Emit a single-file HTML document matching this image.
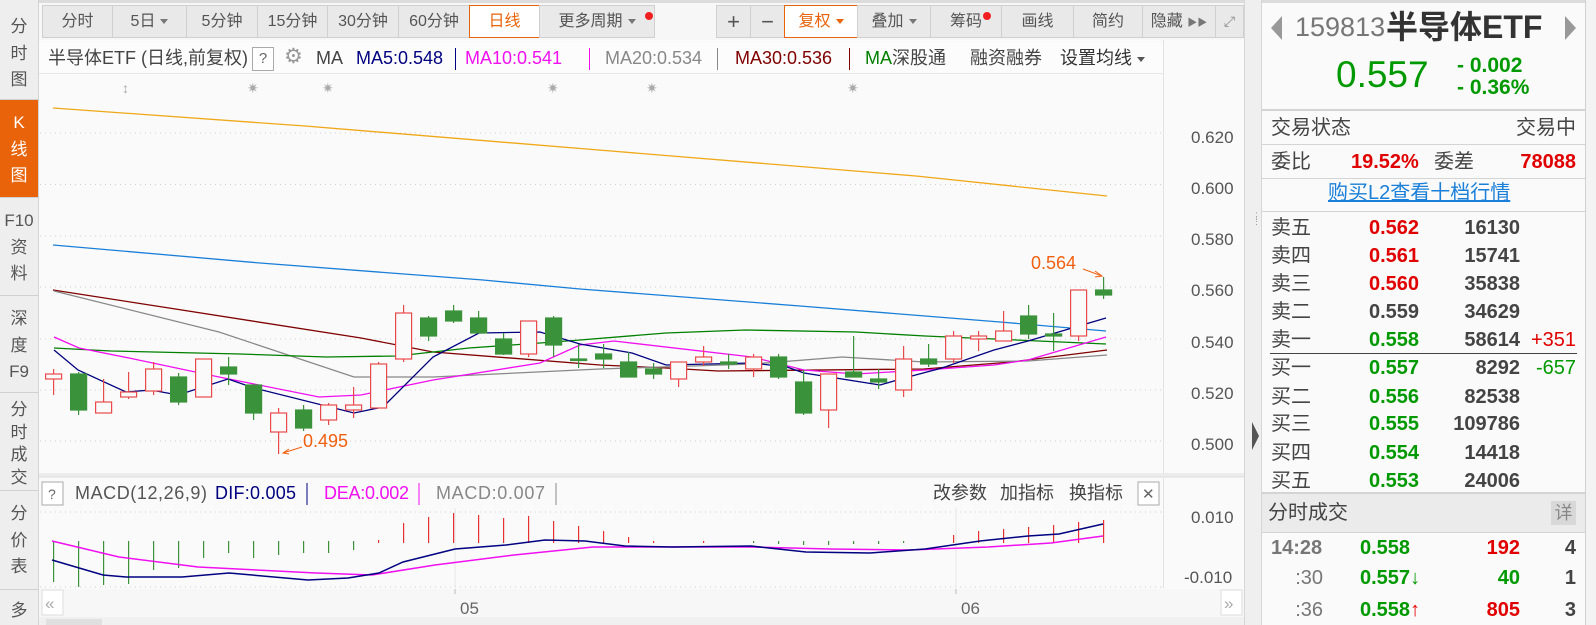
<!DOCTYPE html>
<html><head><meta charset="utf-8">
<style>
*{margin:0;padding:0;box-sizing:border-box}
body{width:1596px;height:625px;overflow:hidden;background:#f7f7f7;font-family:"Liberation Sans","Noto Sans CJK SC",sans-serif;position:relative}
.a{position:absolute;white-space:nowrap}
.si{position:absolute;left:0;width:38px;border-bottom:1px solid #d0d0d0;color:#555;font-size:17px;text-align:center;line-height:26.5px}
.btn{position:absolute;top:5px;height:33px;background:#e9e9e9;border:1px solid #d0d0d0;color:#555;font-size:16px;text-align:center;line-height:31px;white-space:nowrap;overflow:hidden}
.btn.on{background:#fff;border:1px solid #e8630a;color:#e8630a}
.tri{display:inline-block;width:0;height:0;border-left:4px solid transparent;border-right:4px solid transparent;border-top:5px solid #777;vertical-align:middle;margin-left:5px}
.dot{position:absolute;width:8px;height:8px;border-radius:4px;background:#f02020}
.t{position:absolute;white-space:nowrap;font-size:20px;line-height:24px;height:24px}
.lab{color:#444}
.r{color:#e00000;font-weight:bold}
.g{color:#009900;font-weight:bold}
.k{color:#444;font-weight:bold}
.rt{text-align:right}
.hl{position:absolute;left:1262px;width:323px;height:1px;background:#d4d4d4}
.mi{position:absolute;top:47px;font-size:18px;line-height:22px;white-space:nowrap}
</style></head><body>

<!-- left sidebar -->
<div class="a" style="left:0;top:0;width:39px;height:625px;background:#eeeeee;border-right:1px solid #d4d4d4"></div>
<div class="si" style="top:3px;height:97px;padding-top:11px">分<br>时<br>图</div>
<div class="si" style="top:100px;height:98px;padding-top:10px;background:#e8630a;color:#fff">K<br>线<br>图</div>
<div class="si" style="top:198px;height:98px;padding-top:10px">F10<br>资<br>料</div>
<div class="si" style="top:296px;height:97px;padding-top:10px">深<br>度<br>F9</div>
<div class="si" style="top:393px;height:98px;padding-top:6px;line-height:22.5px">分<br>时<br>成<br>交</div>
<div class="si" style="top:491px;height:99px;padding-top:10px">分<br>价<br>表</div>
<div class="si" style="top:590px;height:35px;padding-top:8px;border:none">多</div>

<!-- top strip -->
<div class="a" style="left:39px;top:0;width:1205px;height:3px;background:#dcdcdc"></div>

<!-- toolbar -->
<div class="btn" style="left:42px;width:71px">分时</div>
<div class="btn" style="left:112px;width:75px">5日<span class="tri"></span></div>
<div class="btn" style="left:186px;width:72px">5分钟</div>
<div class="btn" style="left:257px;width:71px">15分钟</div>
<div class="btn" style="left:327px;width:72px">30分钟</div>
<div class="btn" style="left:398px;width:72px">60分钟</div>
<div class="btn on" style="left:469px;width:71px">日线</div>
<div class="btn" style="left:539px;width:116px">更多周期<span class="tri"></span></div>
<div class="dot" style="left:645px;top:12px"></div>
<div class="btn" style="left:716px;width:35px;font-size:22px">+</div>
<div class="btn" style="left:750px;width:35px;font-size:22px">−</div>
<div class="btn on" style="left:784px;width:74px">复权<span class="tri" style="border-top-color:#e8630a"></span></div>
<div class="btn" style="left:857px;width:74px">叠加<span class="tri"></span></div>
<div class="btn" style="left:930px;width:72px">筹码</div>
<div class="dot" style="left:983px;top:12px"></div>
<div class="btn" style="left:1001px;width:73px">画线</div>
<div class="btn" style="left:1073px;width:70px">简约</div>
<div class="btn" style="left:1142px;width:74px">隐藏 <span style="font-size:10px;color:#777">▶▶</span></div>
<div class="btn" style="left:1215px;width:29px;font-size:14px;color:#888">⤢</div>

<!-- main chart -->
<svg class="a" style="left:39px;top:40px" width="1205" height="585" viewBox="39 40 1205 585">
 <rect x="39" y="40" width="1205" height="585" fill="#fafafa"/>
 <rect x="39" y="43" width="1124" height="30" fill="#fcfcfc"/>
 <line x1="39" y1="73.5" x2="1163" y2="73.5" stroke="#e6e6e6"/>
 <line x1="1163.5" y1="40" x2="1163.5" y2="588" stroke="#e2e2e2"/>
 <g stroke="#cfcfcf" stroke-dasharray="1 4">
  <line x1="40" x2="1163" y1="133" y2="133"/><line x1="40" x2="1163" y1="184.5" y2="184.5"/>
  <line x1="40" x2="1163" y1="236" y2="236"/><line x1="40" x2="1163" y1="287" y2="287"/>
  <line x1="40" x2="1163" y1="339" y2="339"/><line x1="40" x2="1163" y1="390" y2="390"/>
  <line x1="40" x2="1163" y1="441" y2="441"/>
  <line x1="40" x2="1163" y1="512" y2="512"/><line x1="40" x2="1163" y1="587" y2="587"/>
 </g>
 <g font-size="17" fill="#555">
  <text x="1191" y="143">0.620</text><text x="1191" y="194">0.600</text>
  <text x="1191" y="245">0.580</text><text x="1191" y="296">0.560</text>
  <text x="1191" y="348">0.540</text><text x="1191" y="399">0.520</text>
  <text x="1191" y="450">0.500</text>
  <text x="1191" y="523">0.010</text><text x="1184" y="583">-0.010</text>
 </g>
 <g font-size="14" fill="#aaa"><text x="122" y="93">↕</text><text x="247" y="93">✷</text><text x="322" y="93">✷</text><text x="547" y="93">✷</text><text x="646" y="93">✷</text><text x="847" y="93">✷</text></g>

 <g fill="none" stroke-width="1.3">
  <polyline stroke="#f0a818" points="53,108 305,126 611,151 916,176 1107,196"/>
  <polyline stroke="#1a7fd8" points="53,245 260,263 483,280 580,289 800,306 1000,322 1106,331"/>
  <polyline stroke="#800000" points="53,290 169,308 361,338 433,352 600,365 666,368 718,371 924,369 1011,362 1107,350"/>
  <polyline stroke="#888" points="54,291 219,332 354,377 433,377 600,369 753,364 842,357 924,362 1028,361 1107,355"/>
  <polyline stroke="#008000" points="54,348 111,351 240,354 326,357 397,356 469,348 540,343 580,340 666,333 745,330 856,332 925,336 994,339 1106,344"/>
  <polyline stroke="#f010f0" points="54,337 79,348 129,358 219,377 319,397 361,395 433,380 540,363 580,345 614,341 752,357 804,370 856,374 925,370 994,365 1028,360 1106,337"/>
  <polyline stroke="#000080" points="54,350 78,370 126,392 151,390 178,395 228,379 254,388 354,413 383,407 433,357 479,333 540,332 580,344 632,353 666,365 752,363 787,367 804,373 880,385 908,377 942,368 994,350 1028,341 1106,318"/>
 </g>

 <g stroke-width="1.2">
 <g stroke="#e84a4a" fill="#fafafa">
  <line x1="53.6" x2="53.6" y1="369" y2="395"/><rect x="45.6" y="374" width="16" height="5"/>
  <line x1="103.6" x2="103.6" y1="379" y2="413"/><rect x="95.6" y="402" width="16" height="11"/>
  <line x1="128.6" x2="128.6" y1="372" y2="399"/><rect x="120.6" y="392" width="16" height="5"/>
  <line x1="153.6" x2="153.6" y1="362" y2="395"/><rect x="145.6" y="369" width="16" height="22"/>
  <line x1="203.6" x2="203.6" y1="359" y2="397"/><rect x="195.6" y="359" width="16" height="38"/>
  <line x1="278.6" x2="278.6" y1="408" y2="454"/><rect x="270.6" y="413" width="16" height="19"/>
  <line x1="328.6" x2="328.6" y1="403" y2="425"/><rect x="320.6" y="405" width="16" height="15"/>
  <line x1="353.6" x2="353.6" y1="387" y2="418"/><rect x="345.6" y="405" width="16" height="5"/>
  <line x1="378.6" x2="378.6" y1="362" y2="408"/><rect x="370.6" y="364" width="16" height="44"/>
  <line x1="403.6" x2="403.6" y1="305" y2="362"/><rect x="395.6" y="313" width="16" height="46"/>
  <line x1="528.6" x2="528.6" y1="321" y2="357"/><rect x="520.6" y="321" width="16" height="33"/>
  <line x1="678.6" x2="678.6" y1="362" y2="387"/><rect x="670.6" y="362" width="16" height="17"/>
  <line x1="703.6" x2="703.6" y1="346" y2="366"/><rect x="695.6" y="357" width="16" height="5"/>
  <line x1="753.6" x2="753.6" y1="354" y2="377"/><rect x="745.6" y="357" width="16" height="12"/>
  <line x1="828.6" x2="828.6" y1="374" y2="428"/><rect x="820.6" y="374" width="16" height="36"/>
  <line x1="903.6" x2="903.6" y1="346" y2="397"/><rect x="895.6" y="359" width="16" height="31"/>
  <line x1="953.6" x2="953.6" y1="331" y2="363"/><rect x="945.6" y="336" width="16" height="23"/>
  <line x1="978.6" x2="978.6" y1="331" y2="351"/><rect x="970.6" y="336" width="16" height="3"/>
  <line x1="1003.6" x2="1003.6" y1="311" y2="341"/><rect x="995.6" y="331" width="16" height="10"/>
  <line x1="1078.6" x2="1078.6" y1="290" y2="341"/><rect x="1070.6" y="290" width="16" height="46"/>
 </g>
 <g stroke="#3a923a" fill="#3a923a">
  <line x1="78.6" x2="78.6" y1="372" y2="415"/><rect x="70.6" y="374" width="16" height="36"/>
  <line x1="178.6" x2="178.6" y1="373" y2="405"/><rect x="170.6" y="377" width="16" height="25"/>
  <line x1="228.6" x2="228.6" y1="357" y2="385"/><rect x="220.6" y="367" width="16" height="7"/>
  <line x1="253.6" x2="253.6" y1="385" y2="420"/><rect x="245.6" y="385" width="16" height="28"/>
  <line x1="303.6" x2="303.6" y1="405" y2="431"/><rect x="295.6" y="410" width="16" height="18"/>
  <line x1="428.6" x2="428.6" y1="316" y2="341"/><rect x="420.6" y="318" width="16" height="18"/>
  <line x1="453.6" x2="453.6" y1="305" y2="323"/><rect x="445.6" y="311" width="16" height="10"/>
  <line x1="478.6" x2="478.6" y1="311" y2="333"/><rect x="470.6" y="318" width="16" height="15"/>
  <line x1="503.6" x2="503.6" y1="333" y2="355"/><rect x="495.6" y="339" width="16" height="15"/>
  <line x1="553.6" x2="553.6" y1="316" y2="357"/><rect x="545.6" y="318" width="16" height="27"/>
  <line x1="578.6" x2="578.6" y1="344" y2="368"/><rect x="570.6" y="359" width="16" height="1.5"/>
  <line x1="603.6" x2="603.6" y1="344" y2="368"/><rect x="595.6" y="354" width="16" height="5"/>
  <line x1="628.6" x2="628.6" y1="352" y2="377"/><rect x="620.6" y="362" width="16" height="15"/>
  <line x1="653.6" x2="653.6" y1="363" y2="379"/><rect x="645.6" y="369" width="16" height="5"/>
  <line x1="728.6" x2="728.6" y1="354" y2="369"/><rect x="720.6" y="362" width="16" height="2"/>
  <line x1="778.6" x2="778.6" y1="354" y2="379"/><rect x="770.6" y="357" width="16" height="20"/>
  <line x1="803.6" x2="803.6" y1="370" y2="415"/><rect x="795.6" y="382" width="16" height="31"/>
  <line x1="853.6" x2="853.6" y1="336" y2="377"/><rect x="845.6" y="372" width="16" height="5"/>
  <line x1="878.6" x2="878.6" y1="369" y2="389"/><rect x="870.6" y="379" width="16" height="3"/>
  <line x1="928.6" x2="928.6" y1="344" y2="367"/><rect x="920.6" y="359" width="16" height="5"/>
  <line x1="1028.6" x2="1028.6" y1="305" y2="339"/><rect x="1020.6" y="316" width="16" height="18"/>
  <line x1="1053.6" x2="1053.6" y1="313" y2="351"/><rect x="1045.6" y="334" width="16" height="2"/>
  <line x1="1103.6" x2="1103.6" y1="277" y2="299"/><rect x="1095.6" y="290" width="16" height="5"/>
 </g>
 </g>
 <g stroke="#f06010" fill="none" stroke-width="1"><polyline points="302,447 283,453"/><polyline points="289,449 283,453 289,454"/><polyline points="1083,269 1102,276"/><polyline points="1095,271 1102,276 1095,277"/></g>
 <text x="303" y="447" font-size="18" fill="#f06010">0.495</text>
 <text x="1031" y="269" font-size="18" fill="#f06010">0.564</text>

 <rect x="39" y="473" width="1205" height="4" fill="#ececec"/>
 <line x1="39" y1="477" x2="1244" y2="477" stroke="#dedede"/>
 <rect x="42" y="482" width="21" height="23" fill="#fff" stroke="#aaa"/>
 <text x="48" y="499" font-size="14" fill="#666">?</text>
 <g font-size="18">
  <text x="75" y="499" fill="#555" textLength="132">MACD(12,26,9)</text>
  <text x="215" y="499" fill="#000080" textLength="81">DIF:0.005</text><line x1="307" x2="307" y1="483" y2="505" stroke="#000080"/>
  <text x="324" y="499" fill="#f010f0" textLength="85">DEA:0.002</text><line x1="419" x2="419" y1="483" y2="505" stroke="#f010f0"/>
  <text x="436" y="499" fill="#888" textLength="109">MACD:0.007</text><line x1="556" x2="556" y1="483" y2="505" stroke="#888"/>
  <text x="933" y="499" fill="#444">改参数</text><text x="1000" y="499" fill="#444">加指标</text><text x="1069" y="499" fill="#444">换指标</text>
 </g>
 <rect x="1138" y="482" width="21" height="23" fill="#fff" stroke="#aaa"/><text x="1142" y="499" font-size="15" fill="#666">✕</text>
 <line x1="455" x2="455" y1="508" y2="587" stroke="#e6e6e6"/><line x1="956" x2="956" y1="508" y2="587" stroke="#e6e6e6"/>
 <g stroke="#3a923a" stroke-width="1.2">
  <line x1="53.6" x2="53.6" y1="541" y2="582"/><line x1="78.6" x2="78.6" y1="541" y2="587"/>
  <line x1="103.6" x2="103.6" y1="541" y2="585"/><line x1="128.6" x2="128.6" y1="541" y2="584"/>
  <line x1="153.6" x2="153.6" y1="541" y2="570"/><line x1="178.6" x2="178.6" y1="541" y2="568"/>
  <line x1="203.6" x2="203.6" y1="541" y2="558"/><line x1="228.6" x2="228.6" y1="541" y2="553"/>
  <line x1="253.6" x2="253.6" y1="541" y2="558"/><line x1="278.6" x2="278.6" y1="541" y2="555"/>
  <line x1="303.6" x2="303.6" y1="541" y2="553"/><line x1="328.6" x2="328.6" y1="541" y2="553"/>
  <line x1="353.6" x2="353.6" y1="541" y2="550"/>
  <line x1="753.6" x2="753.6" y1="541" y2="543"/><line x1="778.6" x2="778.6" y1="541" y2="544"/>
  <line x1="803.6" x2="803.6" y1="541" y2="545"/><line x1="828.6" x2="828.6" y1="541" y2="545"/>
  <line x1="853.6" x2="853.6" y1="541" y2="544"/><line x1="878.6" x2="878.6" y1="541" y2="544"/>
  <line x1="903.6" x2="903.6" y1="541" y2="543"/>
 </g>
 <g stroke="#e83030" stroke-width="1.2">
  <line x1="378.6" x2="378.6" y1="540" y2="543"/>
  <line x1="403.6" x2="403.6" y1="523" y2="543"/><line x1="428.6" x2="428.6" y1="517" y2="543"/>
  <line x1="453.6" x2="453.6" y1="513" y2="543"/><line x1="478.6" x2="478.6" y1="515" y2="543"/>
  <line x1="503.6" x2="503.6" y1="518" y2="543"/><line x1="528.6" x2="528.6" y1="516" y2="543"/>
  <line x1="553.6" x2="553.6" y1="521" y2="543"/><line x1="578.6" x2="578.6" y1="526" y2="543"/>
  <line x1="603.6" x2="603.6" y1="531" y2="543"/><line x1="628.6" x2="628.6" y1="537" y2="543"/>
  <line x1="653.6" x2="653.6" y1="541" y2="543"/><line x1="703.6" x2="703.6" y1="541" y2="543"/>
  <line x1="953.6" x2="953.6" y1="535" y2="543"/><line x1="978.6" x2="978.6" y1="531" y2="543"/>
  <line x1="1003.6" x2="1003.6" y1="529" y2="543"/><line x1="1028.6" x2="1028.6" y1="527" y2="543"/>
  <line x1="1053.6" x2="1053.6" y1="525" y2="543"/><line x1="1078.6" x2="1078.6" y1="522" y2="543"/>
  <line x1="1103.6" x2="1103.6" y1="520" y2="543"/>
 </g>
 <g fill="none" stroke-width="1.5">
  <polyline stroke="#f010f0" points="52,541 119,557 198,567 316,573 372,575 435,565 514,555 593,547 751,547 830,549 909,550 988,547 1051,543 1103,536"/>
  <polyline stroke="#000080" points="52,560 103,575 126,577 182,577 229,573 308,580 348,578 379,573 403,562 455,549 506,545 545,540 585,541 625,546 672,547 751,546 806,552 870,553 925,549 980,541 1028,536 1059,534 1103,524"/>
 </g>
 <rect x="39" y="589" width="1205" height="28" fill="#f7f7f7"/>
 <rect x="42" y="590" width="21" height="25" fill="#fff" stroke="#ddd"/><text x="45" y="609" font-size="17" fill="#aaa">«</text>
 <rect x="1221" y="590" width="21" height="25" fill="#fff" stroke="#ddd"/><text x="1224" y="609" font-size="17" fill="#aaa">»</text>
 <line x1="455" x2="455" y1="589" y2="594" stroke="#bbb"/><line x1="956" x2="956" y1="589" y2="594" stroke="#bbb"/>
 <text x="460" y="614" font-size="17" fill="#666">05</text><text x="961" y="614" font-size="17" fill="#666">06</text>
 <rect x="39" y="617" width="1205" height="8" fill="#f0f0f0"/>
 <rect x="46" y="619" width="56" height="6" fill="#e0e0e0"/>
</svg>

<!-- info row -->
<div class="mi" style="left:48px;color:#444">半导体ETF (日线,前复权)</div>
<div class="a" style="left:252px;top:47px;width:22px;height:24px;border:1px solid #aaa;background:#fff;font-size:15px;color:#666;text-align:center;line-height:22px">?</div>
<div class="a" style="left:284px;top:44px;font-size:21px;color:#999">⚙</div>
<div class="mi" style="left:316px;color:#444">MA</div>
<div class="mi" style="left:356px;color:#000080">MA5:0.548</div>
<div class="a" style="left:455px;top:48px;width:1px;height:22px;background:#000080"></div>
<div class="mi" style="left:465px;color:#f010f0">MA10:0.541</div>
<div class="a" style="left:589px;top:48px;width:1px;height:22px;background:#f010f0"></div>
<div class="mi" style="left:605px;color:#888">MA20:0.534</div>
<div class="a" style="left:717px;top:48px;width:1px;height:22px;background:#888"></div>
<div class="mi" style="left:735px;color:#800000">MA30:0.536</div>
<div class="a" style="left:849px;top:48px;width:1px;height:22px;background:#800000"></div>
<div class="mi" style="left:865px"><span style="color:#008000">MA</span><span style="color:#444">深股通</span></div>
<div class="mi" style="left:970px;color:#444">融资融券</div>
<div class="mi" style="left:1060px;color:#333">设置均线<span class="tri" style="border-top-color:#555"></span></div>

<!-- splitter -->
<div class="a" style="left:1244px;top:0;width:18px;height:625px;background:#efefef;border-left:1px solid #d6d6d6;border-right:1px solid #d6d6d6"></div>
<div class="a" style="left:1252px;top:214px;font-size:9px;color:#999;line-height:5px">⋮<br>⋮</div>
<div class="a" style="left:1252px;top:422px;width:0;height:0;border-top:14px solid transparent;border-bottom:14px solid transparent;border-left:7px solid #555"></div>

<!-- right panel -->
<div class="a" style="left:1262px;top:0;width:323px;height:625px;background:#fafafa"></div>
<div class="a" style="left:1262px;top:0;width:323px;height:3px;background:#dcdcdc"></div>
<div class="a" style="left:1585px;top:0;width:11px;height:625px;background:#f3f3f3;border-left:1px solid #d0d0d0"></div>
<div class="a" style="left:1271px;top:16px;width:0;height:0;border-top:12px solid transparent;border-bottom:12px solid transparent;border-right:11px solid #999"></div>
<div class="a" style="left:1565px;top:16px;width:0;height:0;border-top:12px solid transparent;border-bottom:12px solid transparent;border-left:11px solid #999"></div>
<div class="a" style="left:1295px;top:11px;font-size:27px;line-height:32px;color:#777">159813</div>
<div class="a" style="left:1386px;top:8px;font-size:32px;line-height:38px;color:#333;font-weight:bold">半导体ETF</div>
<div class="a" style="left:1336px;top:53px;font-size:37px;line-height:44px;color:#009900">0.557</div>
<div class="a g" style="left:1457px;top:54px;font-size:21px;line-height:24px">- 0.002</div>
<div class="a g" style="left:1457px;top:76px;font-size:21px;line-height:24px">- 0.36%</div>
<div class="hl" style="top:109px;height:2px"></div>

<div class="t lab" style="left:1271px;top:116px">交易状态</div>
<div class="t lab rt" style="left:1476px;top:116px;width:100px">交易中</div>
<div class="hl" style="top:144px"></div>
<div class="t lab" style="left:1271px;top:150px">委比</div>
<div class="t r" style="left:1351px;top:150px">19.52%</div>
<div class="t lab" style="left:1434px;top:150px">委差</div>
<div class="t r rt" style="left:1476px;top:150px;width:100px">78088</div>
<div class="hl" style="top:178px"></div>
<div class="t" style="left:1328px;top:181px;color:#1a7fd8;text-decoration:underline">购买L2查看十档行情</div>
<div class="hl" style="top:211px"></div>

<div class="t lab" style="left:1271px;top:216px">卖五</div><div class="t r" style="left:1369px;top:216px">0.562</div><div class="t k rt" style="left:1420px;top:216px;width:100px">16130</div>
<div class="t lab" style="left:1271px;top:244px">卖四</div><div class="t r" style="left:1369px;top:244px">0.561</div><div class="t k rt" style="left:1420px;top:244px;width:100px">15741</div>
<div class="t lab" style="left:1271px;top:272px">卖三</div><div class="t r" style="left:1369px;top:272px">0.560</div><div class="t k rt" style="left:1420px;top:272px;width:100px">35838</div>
<div class="t lab" style="left:1271px;top:300px">卖二</div><div class="t k" style="left:1369px;top:300px">0.559</div><div class="t k rt" style="left:1420px;top:300px;width:100px">34629</div>
<div class="t lab" style="left:1271px;top:328px">卖一</div><div class="t g" style="left:1369px;top:328px">0.558</div><div class="t k rt" style="left:1420px;top:328px;width:100px">58614</div><div class="t rt" style="left:1506px;top:328px;width:70px;color:#e00000">+351</div>
<div class="a" style="left:1270px;top:353px;width:307px;height:1px;background:#444"></div>
<div class="t lab" style="left:1271px;top:356px">买一</div><div class="t g" style="left:1369px;top:356px">0.557</div><div class="t k rt" style="left:1420px;top:356px;width:100px">8292</div><div class="t rt" style="left:1506px;top:356px;width:70px;color:#009900">-657</div>
<div class="t lab" style="left:1271px;top:385px">买二</div><div class="t g" style="left:1369px;top:385px">0.556</div><div class="t k rt" style="left:1420px;top:385px;width:100px">82538</div>
<div class="t lab" style="left:1271px;top:412px">买三</div><div class="t g" style="left:1369px;top:412px">0.555</div><div class="t k rt" style="left:1420px;top:412px;width:100px">109786</div>
<div class="t lab" style="left:1271px;top:441px">买四</div><div class="t g" style="left:1369px;top:441px">0.554</div><div class="t k rt" style="left:1420px;top:441px;width:100px">14418</div>
<div class="t lab" style="left:1271px;top:469px">买五</div><div class="t g" style="left:1369px;top:469px">0.553</div><div class="t k rt" style="left:1420px;top:469px;width:100px">24006</div>

<div class="a" style="left:1262px;top:492px;width:323px;height:41px;background:#ebebeb;border-top:2px solid #d4d4d4;border-bottom:1px solid #d4d4d4"></div>
<div class="t lab" style="left:1268px;top:501px">分时成交</div>
<div class="a" style="left:1551px;top:501px;width:25px;height:24px;background:#d8d8d8;color:#888;font-size:18px;text-align:center;line-height:24px">详</div>

<div class="t" style="left:1271px;top:536px;color:#777;font-weight:bold">14:28</div>
<div class="t g" style="left:1360px;top:536px">0.558</div>
<div class="t r rt" style="left:1440px;top:536px;width:80px">192</div>
<div class="t k rt" style="left:1536px;top:536px;width:40px">4</div>
<div class="t rt" style="left:1263px;top:566px;width:60px;color:#777">:30</div>
<div class="t g" style="left:1360px;top:566px">0.557<span style="color:#009900">↓</span></div>
<div class="t g rt" style="left:1440px;top:566px;width:80px">40</div>
<div class="t k rt" style="left:1536px;top:566px;width:40px">1</div>
<div class="t rt" style="left:1263px;top:598px;width:60px;color:#777">:36</div>
<div class="t g" style="left:1360px;top:598px">0.558<span style="color:#e00000">↑</span></div>
<div class="t r rt" style="left:1440px;top:598px;width:80px">805</div>
<div class="t k rt" style="left:1536px;top:598px;width:40px">3</div>
</body></html>
